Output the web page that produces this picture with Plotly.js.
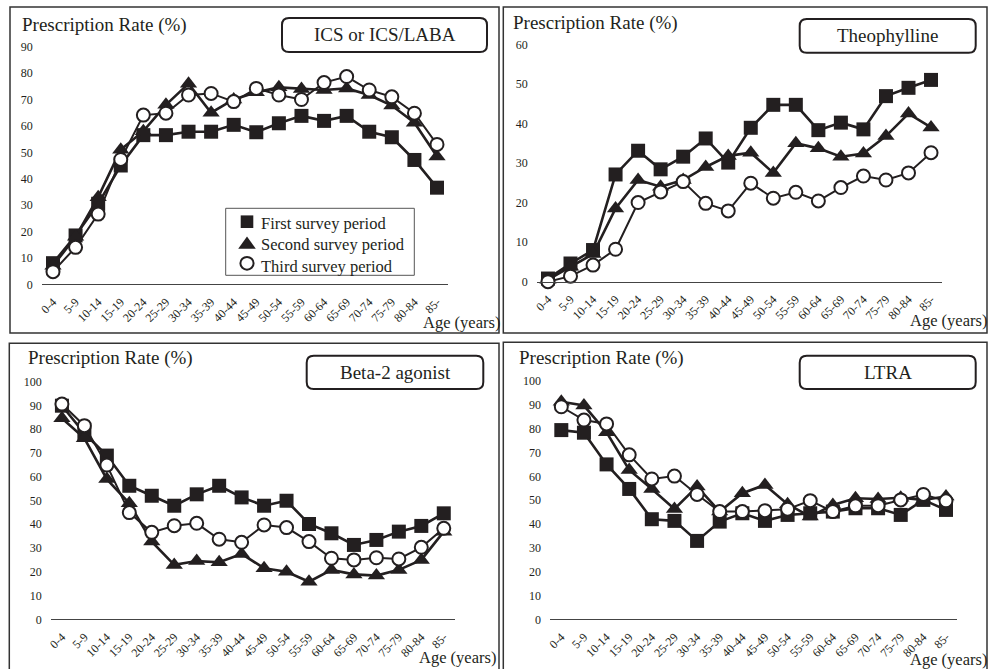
<!DOCTYPE html>
<html>
<head>
<meta charset="utf-8">
<script src="https://cdn.plot.ly/plotly-3.0.1.min.js"></script>
<style>html,body{margin:0;padding:0;background:#fff;}#chart{width:988px;height:669px;}</style>
</head>
<body>
<div id="chart"></div>
<script>
// ---------- DATA ----------
const ageGroups = ["0-4","5-9","10-14","15-19","20-24","25-29","30-34","35-39","40-44","45-49","50-54","55-59","60-64","65-69","70-74","75-79","80-84","85-"];
const seriesNames = ["First survey period","Second survey period","Third survey period"];
const panelTitles = ["ICS or ICS/LABA","Theophylline","Beta-2 agonist","LTRA"];
const yAxisTitle = "Prescription Rate (%)";
const xAxisTitle = "Age (years)";

const icsFirst  = [8,18.5,30.5,45,56.5,56.5,57.8,57.8,60.4,57.6,61,63.8,61.9,63.8,57.8,55.7,47.1,36.6];
const icsSecond = [7,18,33,51,58,68,76,65,70,72.7,74.6,74,73.6,74.2,71.7,67.7,61.2,48.4];
const icsThird  = [4.8,14,26.6,47.3,64.1,64.8,71.7,72.3,69.2,74.2,71.7,70,76.4,78.7,73.6,71,64.8,53];

const theoFirst  = [0.8,4.6,8,27.1,33.1,28.4,31.6,36.2,30.1,38.9,44.7,44.7,38.3,40.2,38.5,46.9,49,51];
const theoSecond = [0.5,3.8,7,18.5,25.7,24,25.7,29,31.8,32.6,27.5,35,33.7,31.6,32.4,36.8,42.5,39];
const theoThird  = [0,1.4,4.2,8.2,20,22.7,25.3,19.8,17.9,24.9,21.1,22.6,20.4,23.8,26.7,25.7,27.5,32.6];

const betaFirst  = [89.9,78.3,68.9,56.2,52,47.8,52.6,56.2,51.3,47.8,49.9,40.1,36.2,31.3,33.4,36.9,39.3,44.6];
const betaSecond = [84.6,76.2,59,48.8,32.7,22.9,24.5,24,27.5,21.5,20,15.8,20.8,18.9,18.4,20.8,25,36.9];
const betaThird  = [90.6,81.5,64.9,44.9,36.6,39.4,40.4,33.7,32.4,39.7,38.6,32.7,25.7,25,25.9,25.4,30.3,38.3];

const ltraFirst  = [79.4,78.3,65,54.7,42,41.3,32.9,41,44.5,41.3,43.8,44.5,45.2,46.6,46.6,43.8,50.1,45.9];
const ltraSecond = [91.3,89.7,78.5,62.7,54.7,46.3,55.7,45.2,52.9,56.4,48.3,43.1,48,50.8,50.5,51,50.1,51.5];
const ltraThird  = [89.2,83.6,82,69,58.9,60.1,52.4,45.2,45.2,45.6,46.2,49.8,45.2,47.6,47.7,50.1,52.4,49.7];

const yMax = [90,60,100,100];

// ---------- LAYOUT HELPERS ----------
const W = 988, H = 669;
const X = p => p / W;
const Y = p => 1 - p / H;
const INK = "#231f20";
const FONT = "'Liberation Serif', 'Times New Roman', 'DejaVu Serif', serif";

const panels = [
  {xd:[41.7,448.3], yt:46.7, yb:284.3, frame:[10,7,499,333], box:[282,18,487,52], ytl:[20,25], age:[421,322.7], data:[icsFirst,icsSecond,icsThird]},
  {xd:[536.7,942.3], yt:44.3, yb:281.7, frame:[503.3,7,987,333], box:[799.7,19,975.7,52.7], ytl:[511,22.7], age:[908,320.7], data:[theoFirst,theoSecond,theoThird]},
  {xd:[50.7,455], yt:381.7, yb:619.3, frame:[9.3,343.3,499,675], box:[306.7,355.7,483.3,389], ytl:[26,358.3], age:[416.7,657], data:[betaFirst,betaSecond,betaThird]},
  {xd:[550,957.3], yt:381, yb:619.3, frame:[503.3,342.3,987,675], box:[799.7,355.7,975.7,389], ytl:[516.7,358.3], age:[908,659], data:[ltraFirst,ltraSecond,ltraThird]}
];

const markerStyles = [
  {symbol:"square", size:14, color:INK, line:{color:INK,width:0}},
  {symbol:"triangle-up", size:15, color:INK, line:{color:INK,width:0}},
  {symbol:"circle", size:13, color:"#ffffff", line:{color:INK,width:2}}
];
const lineWidths = [2.6,2.6,2];

const traces = [];
const layout = {
  width: W, height: H,
  margin:{l:0,r:0,t:0,b:0},
  paper_bgcolor:"#fff", plot_bgcolor:"rgba(0,0,0,0)",
  font:{family:FONT, color:INK},
  showlegend:false,
  shapes:[], annotations:[]
};

function roundRect(x0,y0,x1,y1,r){
  const rx = r/W, ry = r/H;
  const a=X(x0), b=X(x1), t=Y(y0), u=Y(y1);
  return `M ${a+rx},${t} L ${b-rx},${t} Q ${b},${t} ${b},${t-ry} L ${b},${u+ry} Q ${b},${u} ${b-rx},${u} L ${a+rx},${u} Q ${a},${u} ${a},${u+ry} L ${a},${t-ry} Q ${a},${t} ${a+rx},${t} Z`;
}

panels.forEach((p,i) => {
  const n = i+1;
  const xa = n===1 ? "xaxis" : "xaxis"+n;
  const ya = n===1 ? "yaxis" : "yaxis"+n;
  layout[xa] = {
    domain:[X(p.xd[0]), X(p.xd[1])], anchor: n===1?"y":"y"+n,
    type:"category", range:[-0.5,17.5],
    showline:true, linecolor:"#444", linewidth:1, showgrid:false, zeroline:false,
    ticks:"", tickangle:-45, ticklabelstandoff:5,
    tickfont:{family:FONT,size:12,color:INK},
    fixedrange:true
  };
  layout[ya] = {
    domain:[Y(p.yb), Y(p.yt)], anchor: n===1?"x":"x"+n,
    range:[0,yMax[i]], dtick:10, tick0:0,
    showline:false, showgrid:false, zeroline:false, ticks:"",
    ticklabelstandoff:8,
    tickfont:{family:FONT,size:12,color:INK}, fixedrange:true
  };
  p.data.forEach((vals,k) => {
    traces.push({
      type:"scatter", mode:"lines+markers",
      x: ageGroups, y: vals,
      xaxis: n===1?"x":"x"+n, yaxis: n===1?"y":"y"+n,
      line:{color:INK, width:lineWidths[k]},
      marker: markerStyles[k],
      cliponaxis:false, showlegend:false, name:seriesNames[k]
    });
  });
  layout.shapes.push({type:"rect", xref:"paper", yref:"paper",
    x0:X(p.frame[0]), x1:X(p.frame[2]), y0:Y(p.frame[3]), y1:Y(p.frame[1]),
    line:{color:"#333", width:1.5}, fillcolor:"rgba(0,0,0,0)", layer:"below"});
  layout.shapes.push({type:"path", xref:"paper", yref:"paper",
    path: roundRect(p.box[0],p.box[1],p.box[2],p.box[3],7),
    line:{color:INK, width:2}, fillcolor:"#fff", layer:"below"});
  layout.annotations.push({xref:"paper", yref:"paper",
    x:X((p.box[0]+p.box[2])/2), y:Y((p.box[1]+p.box[3])/2),
    xanchor:"center", yanchor:"middle", showarrow:false,
    text:panelTitles[i], font:{family:FONT,size:19,color:INK}});
  layout.annotations.push({xref:"paper", yref:"paper",
    x:X(p.ytl[0]), y:Y(p.ytl[1]), xanchor:"left", yanchor:"middle", showarrow:false,
    text:yAxisTitle, font:{family:FONT,size:19,color:INK}});
  layout.annotations.push({xref:"paper", yref:"paper",
    x:X(p.age[0]), y:Y(p.age[1]), xanchor:"left", yanchor:"middle", showarrow:false,
    text:xAxisTitle, font:{family:FONT,size:16.5,color:INK}});
});

// ---------- KEY (legend box in the first panel) ----------
const key = {box:[225.7,208.3,414.3,275.3], sx:247, rows:[221.7,243,263.3], tx:259};
layout.shapes.push({type:"rect", xref:"paper", yref:"paper",
  x0:X(key.box[0]), x1:X(key.box[2]), y0:Y(key.box[3]), y1:Y(key.box[1]),
  line:{color:"#555", width:1}, fillcolor:"#fff", layer:"above"});
layout.shapes.push({type:"rect", xref:"paper", yref:"paper",
  x0:X(key.sx-6.3), x1:X(key.sx+6.3), y0:Y(key.rows[0]+6.3), y1:Y(key.rows[0]-6.3),
  line:{width:0}, fillcolor:INK, layer:"above"});
layout.shapes.push({type:"path", xref:"paper", yref:"paper",
  path:`M ${X(key.sx-8.8)},${Y(key.rows[1]+5.8)} L ${X(key.sx+8.8)},${Y(key.rows[1]+5.8)} L ${X(key.sx)},${Y(key.rows[1]-6.5)} Z`,
  line:{width:0}, fillcolor:INK, layer:"above"});
layout.shapes.push({type:"circle", xref:"paper", yref:"paper",
  x0:X(key.sx-6.6), x1:X(key.sx+6.6), y0:Y(key.rows[2]+6.4), y1:Y(key.rows[2]-6.4),
  line:{color:INK, width:2}, fillcolor:"#fff", layer:"above"});
layout.annotations.push({xref:"paper", yref:"paper",
  x:X(key.tx), y:Y(key.rows[1]+1.5), xanchor:"left", yanchor:"middle", align:"left",
  showarrow:false, text:seriesNames.join("<br>"),
  font:{family:FONT,size:16.5,color:INK}});

Plotly.newPlot("chart", traces, layout, {displayModeBar:false, staticPlot:true});
</script>
</body>
</html>
